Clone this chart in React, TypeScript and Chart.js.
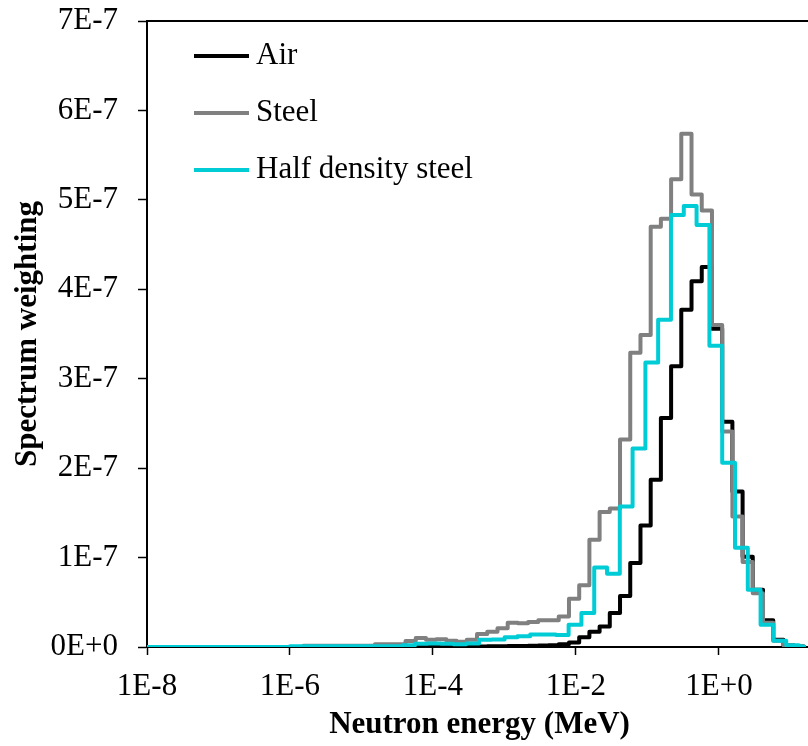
import React, { useEffect, useRef } from 'react';
import { Chart, registerables } from 'chart.js';

Chart.register(...registerables);

// ---- data (spectrum weighting in units of 1E-7) ----
const airSteelEdges = [
  1e-8, 1.54e-6, 1.54e-5, 4.13e-5, 5.74e-5, 7.98e-5, 1.109e-4, 1.54e-4, 2.14e-4, 2.97e-4,
  4.13e-4, 5.74e-4, 7.98e-4, 1.109e-3, 1.54e-3, 2.14e-3, 2.97e-3, 4.13e-3, 5.74e-3, 7.98e-3,
  1.109e-2, 1.54e-2, 2.14e-2, 2.97e-2, 4.13e-2, 5.74e-2, 7.98e-2, 0.1109, 0.154, 0.214,
  0.297, 0.413, 0.574, 0.798, 1.109, 1.54, 2.14, 2.97, 4.13, 5.74, 7.98, 11.09, 15.4,
];

const airValues = [
  0, 0, 0, 0, 0, 0, 0, 0.002, 0.003, 0.004,
  0.005, 0.007, 0.008, 0.01, 0.012, 0.014, 0.016, 0.02, 0.03, 0.05,
  0.11, 0.17, 0.23, 0.38, 0.57, 0.94, 1.36, 1.87, 2.56, 3.14,
  3.77, 4.09, 4.25, 3.56, 2.52, 1.74, 1.01, 0.64, 0.3, 0.08,
  0.02, 0.005,
];

const steelValues = [
  0, 0.015, 0.03, 0.067, 0.1, 0.08, 0.086, 0.07, 0.06, 0.08,
  0.145, 0.17, 0.21, 0.27, 0.265, 0.28, 0.3, 0.3, 0.34, 0.54,
  0.69, 1.2, 1.51, 1.55, 2.32, 3.29, 3.49, 4.7, 4.79, 5.23,
  5.74, 5.06, 4.88, 3.6, 2.41, 1.46, 0.95, 0.6, 0.27, 0.07,
  0.02, 0.005,
];

const halfEdges = [
  1e-8, 1e-6, 3.72e-5, 5.61e-5, 8.47e-5, 1.279e-4, 1.93e-4, 2.92e-4, 4.41e-4, 6.65e-4,
  1.005e-3, 1.517e-3, 2.29e-3, 3.46e-3, 5.22e-3, 7.89e-3, 1.191e-2, 1.8e-2, 2.72e-2, 4.1e-2,
  6.19e-2, 9.35e-2, 0.141, 0.213, 0.322, 0.486, 0.735, 1.109, 1.675, 2.53,
  3.82, 5.77, 8.71, 13.15, 15.4,
];

const halfValues = [
  0, 0.008, 0.02, 0.035, 0.04, 0.035, 0.03, 0.04, 0.08, 0.085,
  0.11, 0.12, 0.14, 0.14, 0.135, 0.25, 0.38, 0.89, 0.82, 1.57,
  2.22, 3.18, 3.66, 4.83, 4.93, 4.72, 3.37, 2.06, 1.11, 0.64,
  0.25, 0.07, 0.02, 0.005,
];

const seriesLabels = ['Air', 'Steel', 'Half density steel'];
const seriesColors = ['#000000', '#808080', '#00CCD6'];

const xTickValues = [1e-8, 1e-6, 1e-4, 1e-2, 1];
const xTickLabels = ['1E-8', '1E-6', '1E-4', '1E-2', '1E+0'];
const yTickLabels = ['0E+0', '1E-7', '2E-7', '3E-7', '4E-7', '5E-7', '6E-7', '7E-7'];
const xAxisTitle = 'Neutron energy (MeV)';
const yAxisTitle = 'Spectrum weighting';

const FONT = '"Liberation Serif", "Times New Roman", serif';

function histogramPoints(edges: number[], values: number[]) {
  const pts: { x: number; y: number }[] = [];
  values.forEach((v, i) => {
    pts.push({ x: edges[i], y: v });
    pts.push({ x: edges[i + 1], y: v });
  });
  pts.push({ x: edges[edges.length - 1], y: 0 });
  return pts;
}

const framePlugin = {
  id: 'frameTop',
  afterDatasetsDraw(chart: any) {
    const { ctx, scales } = chart;
    const ys = scales.y;
    const xs = scales.x;
    const top = ys.getPixelForValue(7);
    ctx.save();
    ctx.strokeStyle = '#000';
    ctx.lineWidth = 2;
    ctx.beginPath();
    ctx.moveTo(xs.left, top);
    ctx.lineTo(xs.right, top);
    ctx.stroke();
    ctx.restore();
  },
};

// x-axis tick labels and title, positioned through the scales
const xAxisTextPlugin = {
  id: 'xAxisText',
  afterDraw(chart: any) {
    const { ctx, scales } = chart;
    const xs = scales.x;
    const base = scales.y.getPixelForValue(0);
    ctx.save();
    ctx.fillStyle = '#000';
    ctx.textAlign = 'center';
    ctx.textBaseline = 'alphabetic';
    ctx.font = `31px ${FONT}`;
    xTickValues.forEach((v, i) => {
      ctx.fillText(xTickLabels[i], xs.getPixelForValue(v), base + 48);
    });
    ctx.font = `bold 31px ${FONT}`;
    ctx.fillText(xAxisTitle, (xs.left + xs.right) / 2, base + 86);
    ctx.restore();
  },
};

const legendPlugin = {
  id: 'insideLegend',
  afterDraw(chart: any) {
    const { ctx } = chart;
    const x0 = 194;
    const x1 = 249;
    const yStart = 56;
    const gap = 57;
    ctx.save();
    ctx.font = `31px ${FONT}`;
    ctx.textBaseline = 'middle';
    ctx.textAlign = 'left';
    seriesLabels.forEach((label, i) => {
      const y = yStart + i * gap;
      ctx.strokeStyle = seriesColors[i];
      ctx.lineWidth = 4;
      ctx.beginPath();
      ctx.moveTo(x0, y);
      ctx.lineTo(x1, y);
      ctx.stroke();
      ctx.fillStyle = '#000';
      ctx.fillText(label, x1 + 7, y);
    });
    ctx.restore();
  },
};

export default function App() {
  const canvasRef = useRef<HTMLCanvasElement | null>(null);

  useEffect(() => {
    if (!canvasRef.current) return;
    const seriesData = [
      histogramPoints(airSteelEdges, airValues),
      histogramPoints(airSteelEdges, steelValues),
      histogramPoints(halfEdges, halfValues),
    ];
    const chart = new Chart(canvasRef.current, {
      type: 'scatter',
      data: {
        datasets: seriesLabels.map((label, i) => ({
          label,
          data: seriesData[i],
          showLine: true,
          borderColor: seriesColors[i],
          backgroundColor: seriesColors[i],
          borderWidth: 4,
          pointRadius: 0,
          pointHoverRadius: 0,
          fill: false,
          tension: 0,
          borderJoinStyle: 'round' as const,
          borderCapStyle: 'round' as const,
          order: 3 - i,
        })),
      },
      options: {
        animation: false,
        responsive: false,
        maintainAspectRatio: false,
        layout: { padding: { top: 21, right: 0, left: 0, bottom: 0 } },
        plugins: { legend: { display: false }, tooltip: { enabled: false } },
        scales: {
          x: {
            type: 'logarithmic',
            min: 1e-8,
            max: 20,
            afterBuildTicks: (scale: any) => {
              scale.ticks = xTickValues.map((v) => ({ value: v }));
            },
            afterFit: (scale: any) => {
              scale.height = 99;
              scale.paddingLeft = 0;
              scale.paddingRight = 0;
            },
            ticks: { display: false },
            grid: {
              display: true,
              drawOnChartArea: false,
              drawTicks: true,
              tickLength: 8,
              tickColor: '#000',
              tickWidth: 1.5,
            },
            border: { display: true, color: '#000', width: 2 },
            title: { display: false },
          },
          y: {
            type: 'linear',
            min: 0,
            max: 7,
            afterFit: (scale: any) => {
              scale.width = 147;
              scale.paddingTop = 0;
              scale.paddingBottom = 0;
            },
            ticks: {
              stepSize: 1,
              callback: (_v: any, i: number) => yTickLabels[i],
              font: { family: FONT, size: 31 },
              color: '#000',
              padding: 20,
            },
            grid: {
              display: true,
              drawOnChartArea: false,
              drawTicks: true,
              tickLength: 9,
              tickColor: '#000',
              tickWidth: 1.5,
            },
            border: { display: true, color: '#000', width: 2 },
            title: {
              display: true,
              text: yAxisTitle,
              font: { family: FONT, size: 31, weight: 'bold' },
              color: '#000',
              padding: { top: 9, bottom: 0 },
            },
          },
        },
      },
      plugins: [framePlugin, xAxisTextPlugin, legendPlugin],
    } as any);
    return () => chart.destroy();
  }, []);

  return (
    <div
      style={{
        position: 'fixed',
        left: 0,
        top: 0,
        width: 808,
        height: 746,
        overflow: 'hidden',
        background: '#fff',
      }}
    >
      <canvas ref={canvasRef} width={812} height={746} style={{ display: 'block' }} />
    </div>
  );
}
